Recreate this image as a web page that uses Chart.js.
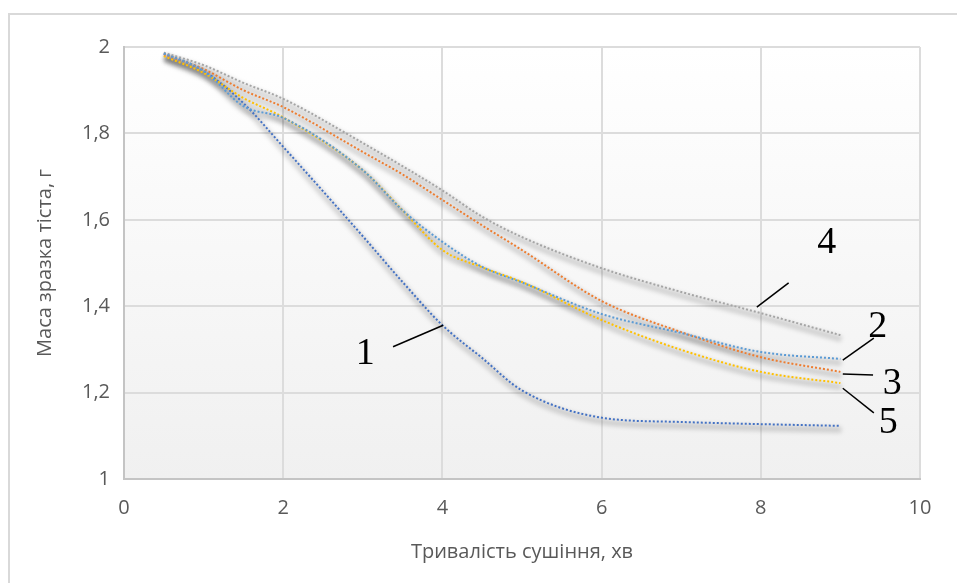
<!DOCTYPE html>
<html>
<head>
<meta charset="utf-8">
<script src="https://cdn.jsdelivr.net/npm/chart.js@4"></script>
<style>
    html, body { margin: 0; padding: 0; background: #fff; }
    #wrap { width: 957px; height: 583px; position: relative; }
</style>
</head>
<body>
<div id="wrap"><canvas id="dryingChart"></canvas></div>
<script>
// Тривалість сушіння, хв
const times = [0.5, 1, 1.5, 2, 3, 3.5, 4, 4.5, 5, 6, 7, 8, 9]
// Маса зразка тіста, г (one list per curve)
const sample1 = [1.985, 1.945, 1.870, 1.769, 1.562, 1.456, 1.356, 1.280, 1.205, 1.142, 1.132, 1.127, 1.123]
const sample2 = [1.985, 1.945, 1.863, 1.836, 1.715, 1.622, 1.549, 1.491, 1.455, 1.382, 1.338, 1.294, 1.278]
const sample3 = [1.983, 1.949, 1.900, 1.861, 1.757, 1.705, 1.646, 1.587, 1.530, 1.412, 1.340, 1.282, 1.248]
const sample4 = [1.987, 1.958, 1.917, 1.880, 1.778, 1.724, 1.668, 1.607, 1.560, 1.488, 1.433, 1.384, 1.333]
const sample5 = [1.979, 1.940, 1.882, 1.837, 1.715, 1.622, 1.530, 1.490, 1.456, 1.368, 1.299, 1.248, 1.222]
// Axis ticks
const xTicks = [0, 2, 4, 6, 8, 10]
const yTicks = [1, 1.2, 1.4, 1.6, 1.8, 2]

// Curve numbers drawn on the chart, with their pointer lines (in axis units)
const curveLabels = [
    { text: '1', at: [3.03, 1.290], from: [3.38, 1.306], to: [4.01, 1.356] },
    { text: '2', at: [9.47, 1.352], from: [9.03, 1.275], to: [9.42, 1.326] },
    { text: '3', at: [9.65, 1.220], from: [9.03, 1.243], to: [9.41, 1.241] },
    { text: '4', at: [8.83, 1.547], from: [7.95, 1.398], to: [8.35, 1.454] },
    { text: '5', at: [9.60, 1.130], from: [9.03, 1.210], to: [9.42, 1.153] }
]

const toPoints = ys => times.map((t, i) => ({ x: t, y: ys[i] }))

const series = [
    { data: sample2, color: '#5B9BD5' },
    { data: sample3, color: '#ED7D31' },
    { data: sample4, color: '#A5A5A5' },
    { data: sample5, color: '#FFC000' },
    { data: sample1, color: '#4472C4' }
]

let datasets = series.map(s => ({
    data: toPoints(s.data),
    borderColor: s.color,
    borderWidth: 2,
    borderDash: [2, 2],
    pointRadius: 0,
    cubicInterpolationMode: 'monotone',
    fill: false
}))

// Outer frame and grey gradient behind the plot
const chartBackground = {
    id: 'chartBackground',
    beforeDraw(chart) {
        const { ctx, chartArea } = chart
        ctx.save()
        ctx.strokeStyle = '#d9d9d9'
        ctx.lineWidth = 2
        ctx.strokeRect(9, 14, 2000, 2000)
        let grad = ctx.createLinearGradient(0, chartArea.top, 0, chartArea.bottom)
        grad.addColorStop(0, '#ffffff')
        grad.addColorStop(1, '#f0f0f0')
        ctx.fillStyle = grad
        ctx.fillRect(chartArea.left, chartArea.top, chartArea.right - chartArea.left, chartArea.bottom - chartArea.top)
        ctx.restore()
    }
}

// Soft shadow under each curve
const lineShadow = {
    id: 'lineShadow',
    beforeDatasetsDraw(chart) {
        const ctx = chart.ctx
        chart.data.datasets.forEach((ds, i) => {
            const meta = chart.getDatasetMeta(i)
            ctx.save()
            ctx.filter = 'blur(2px)'
            ctx.translate(1, 4)
            ctx.beginPath()
            meta.dataset.path(ctx)
            ctx.strokeStyle = 'rgba(0, 0, 0, 0.15)'
            ctx.lineWidth = 6
            ctx.lineJoin = 'round'
            ctx.stroke()
            ctx.restore()
        })
    }
}

// Curve numbers and pointers
const curveNumbers = {
    id: 'curveNumbers',
    afterDraw(chart) {
        const { ctx, scales: { x, y } } = chart
        ctx.save()
        ctx.strokeStyle = '#000'
        ctx.lineWidth = 1.5
        ctx.fillStyle = '#000'
        ctx.font = '38px "Liberation Serif", "Times New Roman", serif'
        ctx.textAlign = 'center'
        ctx.textBaseline = 'middle'
        curveLabels.forEach(l => {
            ctx.beginPath()
            ctx.moveTo(x.getPixelForValue(l.from[0]), y.getPixelForValue(l.from[1]))
            ctx.lineTo(x.getPixelForValue(l.to[0]), y.getPixelForValue(l.to[1]))
            ctx.stroke()
            ctx.fillText(l.text, x.getPixelForValue(l.at[0]), y.getPixelForValue(l.at[1]))
        })
        ctx.restore()
    }
}

const axisFont = { family: '"Open Sans", sans-serif', size: 20 }
const fmt = v => String(Math.round(v * 10) / 10).replace('.', ',')

const ctx = document.getElementById('dryingChart').getContext('2d')
const dryingChart = new Chart(ctx, {
    type: 'line',
    data: { datasets: datasets },
    plugins: [chartBackground, lineShadow, curveNumbers],
    options: {
        responsive: true,
        maintainAspectRatio: false,
        animation: false,
        layout: { padding: { left: 0, right: 37, top: 47, bottom: 0 } },
        plugins: {
            legend: { display: false },
            tooltip: { enabled: false }
        },
        scales: {
            x: {
                type: 'linear',
                min: 0,
                max: 10,
                afterFit: s => { s.height = 104 },
                afterBuildTicks: s => { s.ticks = xTicks.map(v => ({ value: v })) },
                grid: { color: '#dcdcdc', lineWidth: 2, drawTicks: false },
                border: { color: '#c4c4c4', width: 2 },
                ticks: { color: '#595959', font: axisFont, padding: 17, callback: v => fmt(v) },
                title: {
                    display: true,
                    text: 'Тривалість сушіння, хв',
                    color: '#595959',
                    font: axisFont,
                    padding: { top: 0, bottom: 19 }
                }
            },
            y: {
                type: 'linear',
                min: 1,
                max: 2,
                afterFit: s => { s.width = 124 },
                afterBuildTicks: s => { s.ticks = yTicks.map(v => ({ value: v })) },
                grid: { color: '#dcdcdc', lineWidth: 2, drawTicks: false },
                border: { color: '#c4c4c4', width: 2 },
                ticks: { color: '#595959', font: axisFont, padding: 14, callback: v => fmt(v) },
                title: {
                    display: true,
                    text: 'Маса зразка тіста, г',
                    color: '#595959',
                    font: axisFont,
                    padding: { top: 33, bottom: 0 }
                }
            }
        }
    }
})
</script>
</body>
</html>
